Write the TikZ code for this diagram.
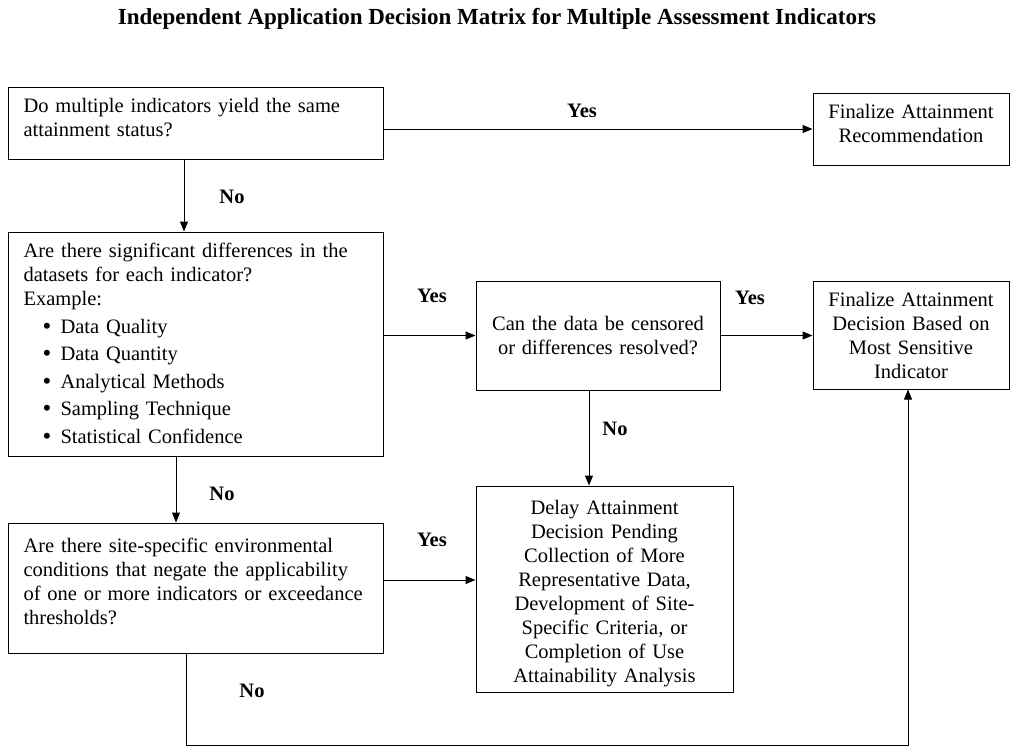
\documentclass[tikz,border=0pt]{standalone}
\usepackage{fontspec}
\setmainfont{Liberation Serif}
\usetikzlibrary{arrows.meta}
\newcommand{\bigbul}{\hspace*{19pt}\makebox[18pt][l]{\raisebox{-1pt}{\fontsize{25}{24}\selectfont\textbullet}}}
\begin{document}
\begin{tikzpicture}[x=1pt,y=-1pt,
  box/.style={draw, line width=1pt, inner ysep=0pt, font=\fontsize{20.5}{24}\selectfont},
  lbox/.style={box, align=left, inner xsep=15.5pt},
  cbox/.style={box, align=center, inner xsep=4pt},
  arr/.style={line width=1pt, -{Triangle[length=10pt,width=8pt]}},
  lab/.style={font=\fontsize{20.5}{24}\selectfont\bfseries, inner sep=0pt}]
\useasboundingbox (0,0) rectangle (1011,748);
\node[font=\fontsize{23}{27}\selectfont\bfseries] (title) at (497,19) {Independent Application Decision Matrix for Multiple Assessment Indicators};

\node[lbox, minimum width=375pt, minimum height=72pt, text width=344pt] (A) at (195.5,123)
  {Do multiple indicators yield the same\\attainment status?\rule[-10.5pt]{0pt}{0pt}};
\node[cbox, minimum width=196pt, minimum height=72pt, text width=188pt] (B) at (911,129)
  {Finalize Attainment\\Recommendation\rule[-11pt]{0pt}{0pt}};
\node[lbox, minimum width=375pt, minimum height=224pt, text width=344pt] (C) at (195.5,344)
  {Are there significant differences in the\\datasets for each indicator?\\Example:\\[3.5pt]
   \bigbul Data Quality\\[3.5pt]
   \bigbul Data Quantity\\[3.5pt]
   \bigbul Analytical Methods\\[3.5pt]
   \bigbul Sampling Technique\\[3.5pt]
   \bigbul Statistical Confidence};
\node[cbox, minimum width=244pt, minimum height=109pt, text width=236pt] (D) at (598,335.5)
  {Can the data be censored\\or differences resolved?};
\node[cbox, minimum width=196pt, minimum height=108pt, text width=188pt] (E) at (911,335)
  {Finalize Attainment\\Decision Based on\\Most Sensitive\\Indicator};
\node[cbox, minimum width=257pt, minimum height=206pt, text width=249pt] (F) at (604.5,589)
  {\rule{0pt}{23.5pt}Delay Attainment\\Decision Pending\\Collection of More\\Representative Data,\\Development of Site-\\Specific Criteria, or\\Completion of Use\\Attainability Analysis};
\node[lbox, minimum width=375pt, minimum height=130pt, text width=344pt] (G) at (195.5,588)
  {Are there site-specific environmental\\conditions that negate the applicability\\of one or more indicators or exceedance\\thresholds?\rule[-14pt]{0pt}{0pt}};

\coordinate (bot) at (0,745);

\draw[arr] (A.east |- B.west) -- (B.west);
\draw[arr] ([xshift=-11.5pt]A.south) -- ([xshift=-11.5pt]A.south |- C.north);
\draw[arr] (C.east |- D.west) -- (D.west);
\draw[arr] (D.east) -- (E.west |- D.east);
\draw[arr] ([xshift=-9pt]D.south) -- ([xshift=-9pt]D.south |- F.north);
\draw[arr] ([xshift=-19.5pt]C.south) -- ([xshift=-19.5pt]C.south |- G.north);
\draw[arr] ([yshift=8pt]G.east) -- ([yshift=8pt]G.east -| F.west);
\draw[arr] ([xshift=-9.5pt]G.south) |- ([xshift=-3pt]E.south |- bot) -- ([xshift=-3pt]E.south);

\node[lab] (y1) at (582,111) {Yes};
\node[lab] (n1) at (232,197) {No};
\node[lab] (y2) at (432,296) {Yes};
\node[lab] (y3) at (750,298) {Yes};
\node[lab] (n2) at (615,429) {No};
\node[lab] (n3) at (222,494) {No};
\node[lab] (y4) at (432,540) {Yes};
\node[lab] (n4) at (252,691) {No};
\end{tikzpicture}
\end{document}
